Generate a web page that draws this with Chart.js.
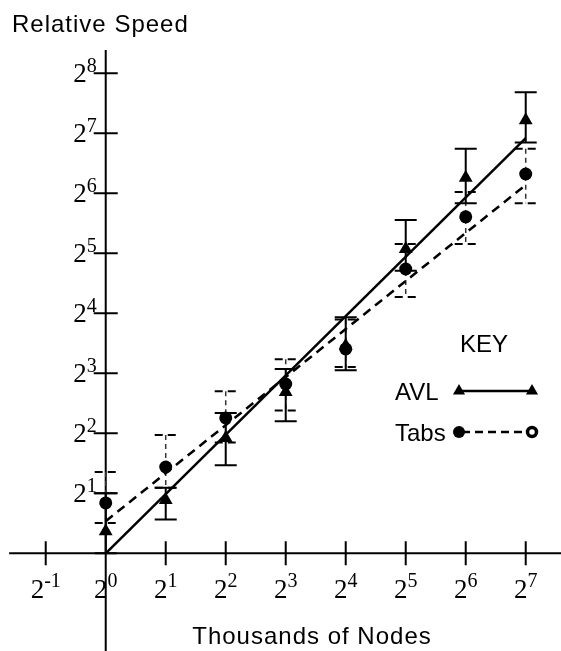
<!DOCTYPE html>
<html>
<head>
<meta charset="utf-8">
<script src="https://cdn.jsdelivr.net/npm/chart.js@4.4.1/dist/chart.umd.min.js"></script>
<style>
  html, body { margin: 0; padding: 0; background: #fff; }
  #wrap { width: 561px; height: 651px; position: relative; }
</style>
</head>
<body>
<div id="wrap"><canvas id="speedChart"></canvas></div>
<script>
// thousands of nodes (x) and relative speed (y)
var nodes = [1, 2, 4, 8, 16, 32, 64, 128];

var avlSpeed = [1.29, 1.85, 3.79, 6.45, 11.0, 33.6, 76.6, 149];
var avlHigh  = [2.0, 2.13, 5.06, 8.4, 15.3, 47, 107, 206];
var avlLow   = [1.0, 1.48, 2.77, 4.6, 8.3, 26.2, 57, 115];

var tabsSpeed = [1.79, 2.71, 4.78, 7.07, 10.6, 26.7, 48.8, 80];
var tabsHigh  = [2.56, 3.92, 6.5, 9.4, 14.9, 35.6, 65, 107];
var tabsLow   = [1.42, 2.13, 3.6, 5.2, 8.6, 19.3, 35.6, 57];

// fitted trend lines (end points)
var fitNodes = [1, 128];
var avlFit   = [1, 121];
var tabsFit  = [1.45, 70.5];

// tick labels are powers of two
var xTickExps = [-1, 0, 1, 2, 3, 4, 5, 6, 7];
var yTickExps = [1, 2, 3, 4, 5, 6, 7, 8];

function pow2(e) { return Math.pow(2, e); }

function pts(xs, ys) {
    var out = [];
    for (let i = 0; i < xs.length; i++) {
        out.push({x: xs[i], y: ys[i]});
    }
    return out;
}

var SERIF = '"Liberation Serif", "Times New Roman", serif';
var SANS = '"Liberation Sans", Arial, Helvetica, sans-serif';

// draws "2" with a raised exponent
function drawPow(ctx, exp, x, baseY, supY, align) {
    var e = String(exp);
    ctx.font = '27px ' + SERIF;
    var wb = ctx.measureText('2').width;
    ctx.font = '20px ' + SERIF;
    var ws = ctx.measureText(e).width;
    var left = align === 'right' ? x - wb - ws : x - (wb + ws) / 2;
    ctx.textAlign = 'left';
    ctx.textBaseline = 'alphabetic';
    ctx.font = '27px ' + SERIF;
    ctx.fillText('2', left, baseY);
    ctx.font = '20px ' + SERIF;
    ctx.fillText(e, left + wb, supY);
}

function triangle(ctx, x, y, r) {
    ctx.beginPath();
    ctx.moveTo(x, y - r);
    ctx.lineTo(x + r * 0.866, y + r * 0.5);
    ctx.lineTo(x - r * 0.866, y + r * 0.5);
    ctx.closePath();
    ctx.fill();
}

var crossAxes = {
    id: 'crossAxes',
    beforeDatasetsDraw: function(chart) {
        var ctx = chart.ctx, xs = chart.scales.x, ys = chart.scales.y;
        var ox = xs.getPixelForValue(1), oy = ys.getPixelForValue(1);
        ctx.save();
        ctx.strokeStyle = '#000';
        ctx.lineWidth = 2;
        ctx.beginPath();
        ctx.moveTo(xs.getPixelForValue(pow2(-1.61)), oy);
        ctx.lineTo(chart.chartArea.right, oy);
        ctx.moveTo(ox, ys.getPixelForValue(pow2(8.39)));
        ctx.lineTo(ox, chart.chartArea.bottom);
        xTickExps.forEach(function(e) {
            if (e === 0) return;
            var px = xs.getPixelForValue(pow2(e));
            ctx.moveTo(px, oy - 12);
            ctx.lineTo(px, oy + 12);
        });
        yTickExps.forEach(function(e) {
            var py = ys.getPixelForValue(pow2(e));
            ctx.moveTo(ox - 12, py);
            ctx.lineTo(ox + 12, py);
        });
        ctx.stroke();

        // Tabs error bars (dashed)
        for (let i = 0; i < nodes.length; i++) {
            var px = xs.getPixelForValue(nodes[i]);
            var top = ys.getPixelForValue(tabsHigh[i]);
            var bot = ys.getPixelForValue(tabsLow[i]);
            ctx.strokeStyle = '#333';
            ctx.lineWidth = 1.5;
            ctx.setLineDash([5, 4]);
            ctx.beginPath();
            ctx.moveTo(px, top); ctx.lineTo(px, bot);
            ctx.stroke();
            ctx.strokeStyle = '#000';
            ctx.lineWidth = 2;
            ctx.setLineDash([8, 5]);
            ctx.beginPath();
            ctx.moveTo(px - 11, top); ctx.lineTo(px + 11, top);
            ctx.moveTo(px - 11, bot); ctx.lineTo(px + 11, bot);
            ctx.stroke();
        }
        ctx.setLineDash([]);

        // AVL error bars (solid)
        ctx.strokeStyle = '#000';
        ctx.lineWidth = 2;
        ctx.beginPath();
        for (let i = 0; i < nodes.length; i++) {
            var px = xs.getPixelForValue(nodes[i]);
            var top = ys.getPixelForValue(avlHigh[i]);
            var bot = ys.getPixelForValue(avlLow[i]);
            ctx.moveTo(px, top); ctx.lineTo(px, bot);
            ctx.moveTo(px - 11, top); ctx.lineTo(px + 11, top);
            ctx.moveTo(px - 11, bot); ctx.lineTo(px + 11, bot);
        }
        ctx.stroke();
        ctx.restore();
    },
    afterDraw: function(chart) {
        var ctx = chart.ctx, xs = chart.scales.x, ys = chart.scales.y;
        var ox = xs.getPixelForValue(1), oy = ys.getPixelForValue(1);
        ctx.save();
        ctx.fillStyle = '#000';

        // tick labels
        xTickExps.forEach(function(e) {
            var px = xs.getPixelForValue(pow2(e));
            drawPow(ctx, e, px, oy + 45, oy + 34, 'center');
        });
        yTickExps.forEach(function(e) {
            var py = ys.getPixelForValue(pow2(e));
            drawPow(ctx, e, ox - 9, py + 9, py - 1, 'right');
        });

        // axis titles
        ctx.font = '24px ' + SANS;
        ctx.letterSpacing = '1px';
        ctx.textAlign = 'left';
        ctx.fillText('Relative Speed', 12, 32);
        ctx.textAlign = 'center';
        ctx.fillText('Thousands of Nodes', 312, 644);

        // key
        ctx.letterSpacing = '0px';
        ctx.font = '24px ' + SANS;
        ctx.textAlign = 'center';
        ctx.fillText('KEY', 484, 352);
        ctx.textAlign = 'left';
        ctx.fillText('AVL', 395, 400);
        ctx.fillText('Tabs', 395, 441);

        ctx.strokeStyle = '#000';
        ctx.lineWidth = 2.5;
        ctx.beginPath();
        ctx.moveTo(459, 391); ctx.lineTo(532, 391);
        ctx.stroke();
        triangle(ctx, 459, 391, 7);
        triangle(ctx, 532, 391, 7);

        ctx.setLineDash([8, 5]);
        ctx.beginPath();
        ctx.moveTo(462, 432); ctx.lineTo(528, 432);
        ctx.stroke();
        ctx.setLineDash([]);
        ctx.beginPath();
        ctx.arc(459, 432, 6, 0, Math.PI * 2);
        ctx.fill();
        ctx.lineWidth = 3.5;
        ctx.beginPath();
        ctx.arc(532, 432, 4.5, 0, Math.PI * 2);
        ctx.stroke();
        ctx.restore();
    }
};

var ctx = document.getElementById('speedChart');
var speedChart = new Chart(ctx, {
    type: 'scatter',
    data: {
        datasets: [{
            label: 'AVL',
            data: pts(nodes, avlSpeed),
            pointStyle: 'triangle',
            pointRadius: 8,
            backgroundColor: '#000',
            borderWidth: 0,
            order: 0
        }, {
            label: 'Tabs',
            data: pts(nodes, tabsSpeed),
            pointStyle: 'circle',
            pointRadius: 6.5,
            backgroundColor: '#000',
            borderWidth: 0,
            order: 0
        }, {
            label: 'AVL fit',
            data: pts(fitNodes, avlFit),
            showLine: true,
            borderColor: '#000',
            borderWidth: 2.5,
            pointRadius: 0,
            order: 1
        }, {
            label: 'Tabs fit',
            data: pts(fitNodes, tabsFit),
            showLine: true,
            borderColor: '#000',
            borderWidth: 2.5,
            borderDash: [9, 6],
            pointRadius: 0,
            order: 1
        }]
    },
    options: {
        responsive: true,
        maintainAspectRatio: false,
        animation: false,
        layout: { padding: 0, autoPadding: false },
        plugins: {
            legend: { display: false },
            tooltip: { enabled: false }
        },
        scales: {
            x: {
                type: 'logarithmic',
                display: false,
                bounds: 'data',
                min: pow2(-1.762),
                max: pow2(7.588)
            },
            y: {
                type: 'logarithmic',
                display: false,
                bounds: 'data',
                min: pow2(-1.628),
                max: pow2(9.222)
            }
        }
    },
    plugins: [crossAxes]
});
</script>
</body>
</html>
